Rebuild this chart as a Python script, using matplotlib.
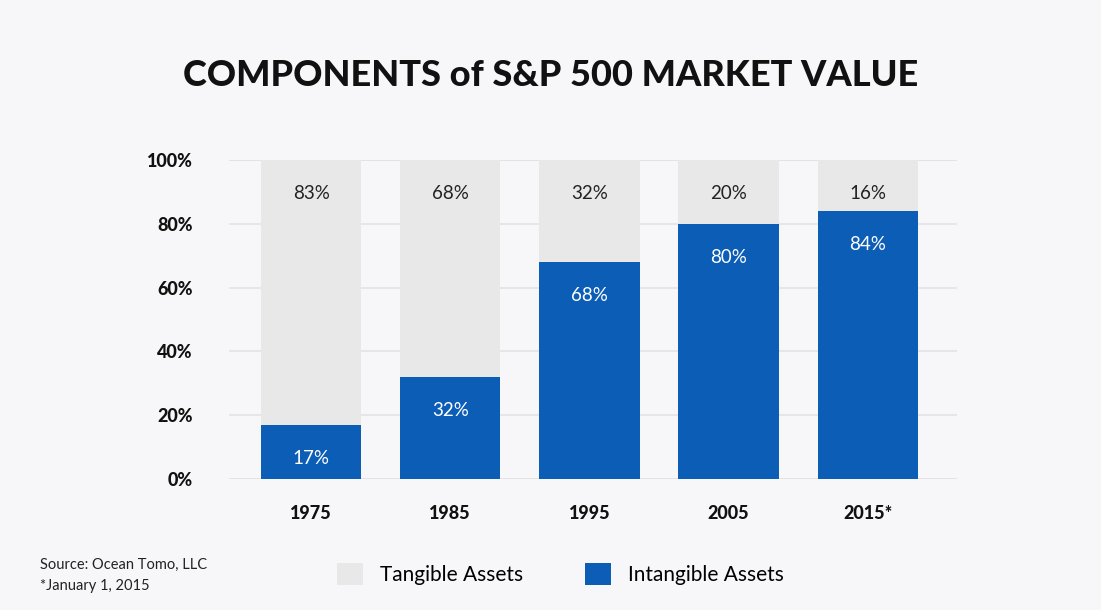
import matplotlib
matplotlib.use("Agg")
import matplotlib.pyplot as plt
from matplotlib.patches import Patch
import numpy as np

years = ["1975", "1985", "1995", "2005", "2015*"]
intangible = [17, 32, 68, 80, 84]
tangible = [83, 68, 32, 20, 16]
yticks = [0, 20, 40, 60, 80, 100]

bg = "#f7f7f9"
gray = "#e8e8e8"
blue = "#0c5db6"
plt.rcParams['font.family'] = ['Lato', 'DejaVu Sans']

fig = plt.figure(figsize=(11.01, 6.10), dpi=100, facecolor=bg)
ax = fig.add_axes([0.208, 0.2148, 0.661, 0.523], facecolor=bg)

x = np.arange(len(years))
ax.bar(x, intangible, width=0.72, color=blue, zorder=3)
ax.bar(x, tangible, width=0.72, bottom=intangible, color=gray, zorder=3)

for xi, iv, tv in zip(x, intangible, tangible):
    ax.annotate(f"{tv}%", (xi, 100), xytext=(0, -24), textcoords="offset points",
                ha="center", va="center", fontsize=13.5, color="#222222")
    ax.annotate(f"{iv}%", (xi, iv), xytext=(0, -24), textcoords="offset points",
                ha="center", va="center", fontsize=13.5, color="white")

ax.set_xlim(-0.59, 4.64)
ax.set_ylim(0, 100)
ax.set_yticks(yticks)
ax.set_yticklabels([f"{t}%" for t in yticks], fontsize=13, fontweight="black", color="#111111")
ax.set_xticks(x)
ax.set_xticklabels(years, fontsize=13, fontweight="black", color="#111111")
ax.tick_params(length=0)
ax.tick_params(axis="y", pad=26)
ax.tick_params(axis="x", pad=19)
ax.grid(axis="y", color="#e3e3e6", linewidth=1.2, zorder=0)
ax.set_axisbelow(True)
for s in ax.spines.values():
    s.set_visible(False)
ax.axhline(0, color="#e3e3e6", linewidth=1.2, zorder=1)
ax.axhline(100, color="#e3e3e6", linewidth=1.2, zorder=1)

fig.text(0.5, 0.877, "COMPONENTS of S&P 500 MARKET VALUE", ha="center", va="center",
         fontsize=26, fontweight="black", color="#111111")

fig.text(0.036, 0.074, "Source: Ocean Tomo, LLC", fontsize=10.5, color="#222222", va="center")
fig.text(0.036, 0.040, "*January 1, 2015", fontsize=10.5, color="#222222", va="center")

handles = [Patch(facecolor=gray, label="Tangible Assets"),
           Patch(facecolor=blue, label="Intangible Assets")]
fig.legend(handles=handles, loc="center", bbox_to_anchor=(0.509, 0.059), ncol=2,
           frameon=False, fontsize=15, handlelength=1.25, handleheight=1.25,
           columnspacing=3.0, handletextpad=0.8)

fig.savefig("out.png", dpi=100, facecolor=bg)
